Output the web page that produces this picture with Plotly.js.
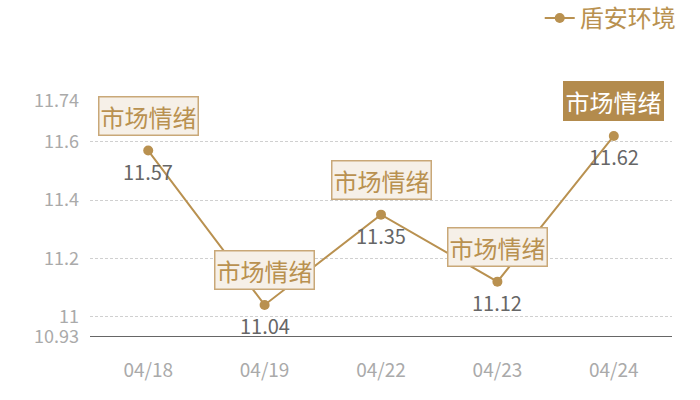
<!DOCTYPE html>
<html>
<head>
<meta charset="utf-8">
<script src="https://cdn.plot.ly/plotly-3.0.1.min.js"></script>
<style>
  body { margin: 0; background: #fff; }
  #chart { width: 700px; height: 400px; }
</style>
</head>
<body>
<div id="chart"></div>
<script>
var dates = ["04/18", "04/19", "04/22", "04/23", "04/24"];
var prices = [11.57, 11.04, 11.35, 11.12, 11.62];
var tags = ["市场情绪", "市场情绪", "市场情绪", "市场情绪", "市场情绪"];
var tickVals = [10.93, 11, 11.2, 11.4, 11.6, 11.74];
var tickText = ["10.93", "11", "11.2", "11.4", "11.6", "11.74"];
var seriesName = "盾安环境";

var gold = "#b99150";
var font = "Noto Sans CJK SC, Noto Sans, sans-serif";

var trace = {
  type: "scatter",
  mode: "lines+markers",
  x: dates,
  y: prices,
  name: seriesName,
  line: { color: gold, width: 2 },
  marker: { color: gold, size: 10 },
  hoverinfo: "x+y"
};

var annotations = [];
// box label above each point, last one highlighted
for (var i = 0; i < dates.length; i++) {
  var last = i == dates.length - 1;
  annotations.push({
    x: dates[i], y: prices[i],
    text: tags[i],
    showarrow: false,
    yshift: 35,
    font: { family: font, size: 24, color: last ? "#ffffff" : gold },
    bgcolor: last ? "#b38b4d" : "#f6f0e8",
    bordercolor: last ? "#b38b4d" : "#c9a878",
    borderwidth: 1.5,
    borderpad: 1
  });
  annotations.push({
    x: dates[i], y: prices[i],
    text: String(prices[i]),
    showarrow: false,
    yshift: -21,
    font: { family: font, size: 20, color: "#666666" }
  });
}

var layout = {
  width: 700,
  height: 400,
  margin: { l: 90, r: 28, t: 101, b: 63, autoexpand: false },
  paper_bgcolor: "#ffffff",
  plot_bgcolor: "#ffffff",
  font: { family: font },
  showlegend: true,
  legend: {
    orientation: "h",
    x: 1.015, xanchor: "right",
    y: 1.35, yanchor: "middle",
    font: { family: font, size: 24, color: gold },
    bgcolor: "rgba(0,0,0,0)"
  },
  xaxis: {
    type: "category",
    range: [-0.5, 4.5],
    showgrid: false,
    zeroline: false,
    showline: false,
    ticks: "",
    tickfont: { family: font, size: 19, color: "#aaaaaa" },
    ticklabelstandoff: 20
  },
  yaxis: {
    range: [10.93, 11.74],
    tickvals: tickVals,
    ticktext: tickText,
    showgrid: true,
    gridcolor: "#d0d0d0",
    griddash: "3px,2px",
    gridwidth: 1,
    zeroline: false,
    showline: false,
    ticks: "",
    ticklabelstandoff: 10,
    tickfont: { family: font, size: 18, color: "#aaaaaa" }
  },
  shapes: [{
    type: "line", xref: "paper", yref: "y",
    x0: 0, x1: 1, y0: 10.93, y1: 10.93,
    line: { color: "#333333", width: 1.5 }
  }],
  annotations: annotations
};

Plotly.newPlot("chart", [trace], layout, { displayModeBar: false, staticPlot: true });
</script>
</body>
</html>
